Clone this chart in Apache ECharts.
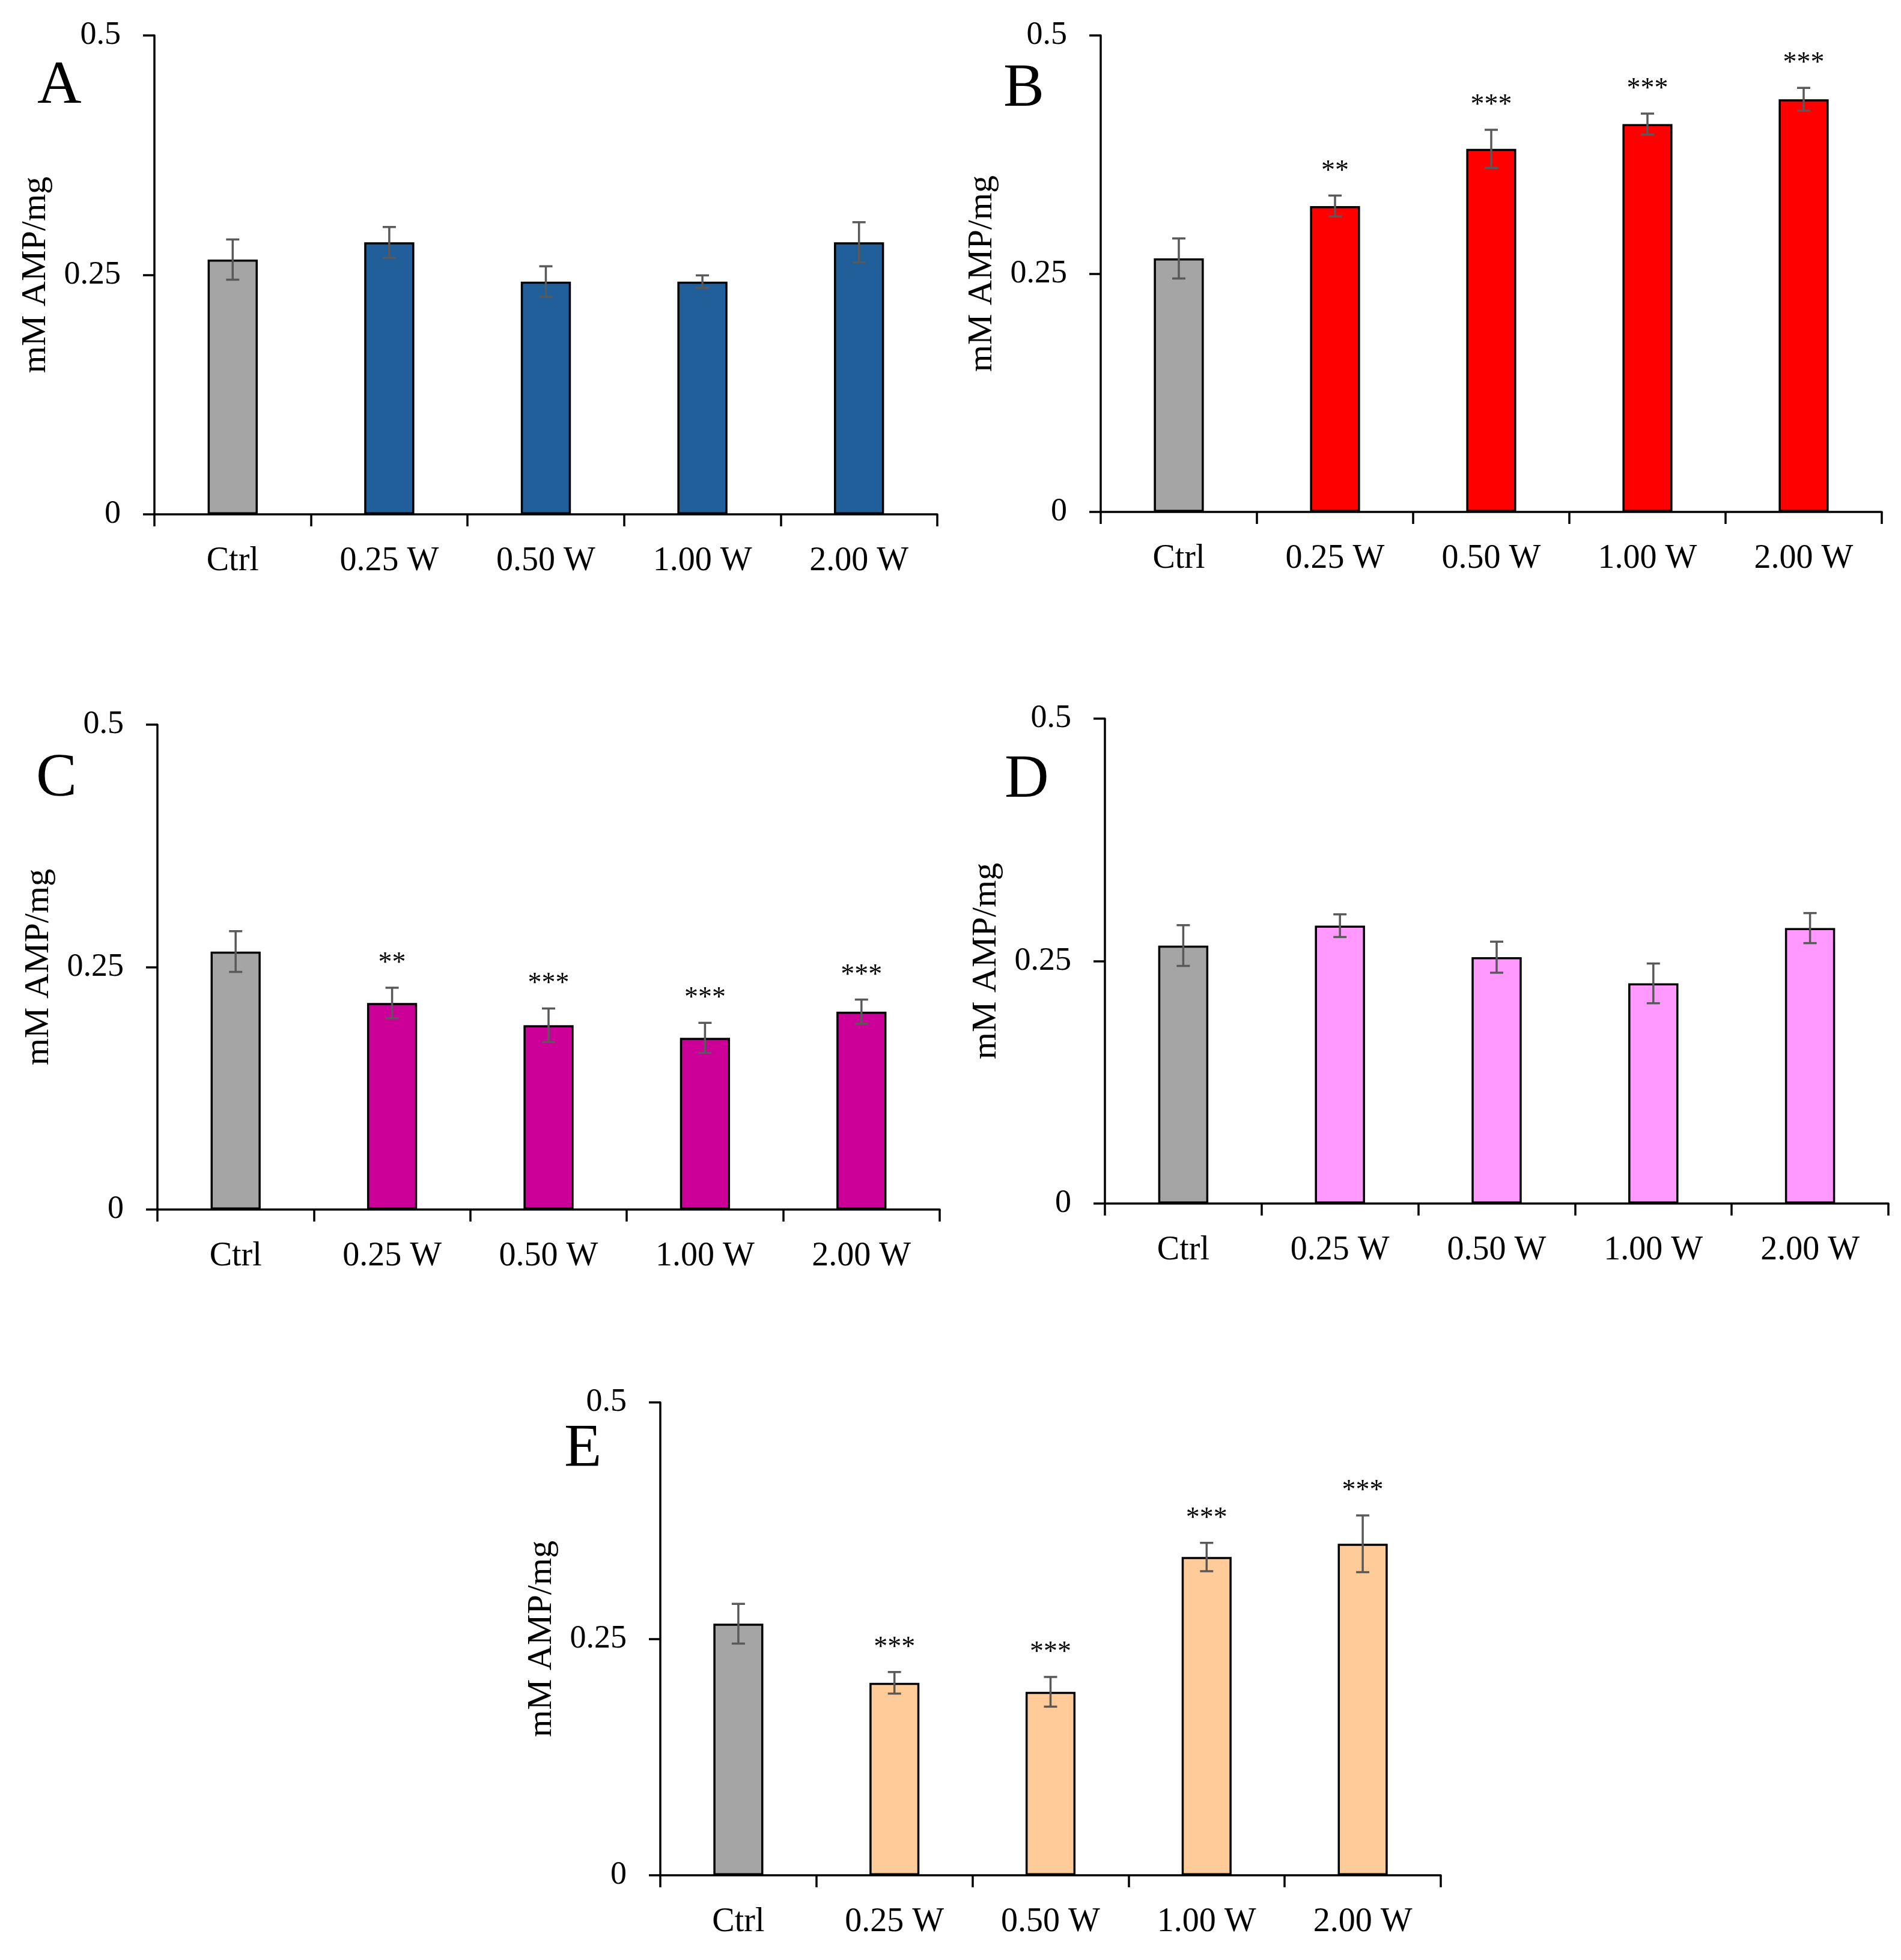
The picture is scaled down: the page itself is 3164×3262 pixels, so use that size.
<!DOCTYPE html>
<html>
<head>
<meta charset="utf-8">
<script src="https://cdn.jsdelivr.net/npm/echarts@6/dist/echarts.min.js"></script>
<style>
  html, body { margin: 0; padding: 0; background: #fff; }
  #chart { width: 3164px; height: 3262px; }
</style>
</head>
<body>
<div id="chart"></div>
<script>
// categories and tick labels
const categories = ["Ctrl", "0.25 W", "0.50 W", "1.00 W", "2.00 W"];
const yTicks = [0, 0.25, 0.5];
const axisTitle = "mM AMP/mg";

// panel A
const valuesA = [0.266, 0.284, 0.243, 0.243, 0.284];
const errorsA = [0.021, 0.016, 0.016, 0.0065, 0.021];
const starsA = ["", "", "", "", ""];

// panel B
const valuesB = [0.266, 0.321, 0.381, 0.407, 0.433];
const errorsB = [0.021, 0.011, 0.020, 0.011, 0.012];
const starsB = ["", "**", "***", "***", "***"];

// panel C
const valuesC = [0.266, 0.213, 0.190, 0.177, 0.204];
const errorsC = [0.021, 0.0157, 0.0173, 0.0155, 0.0125];
const starsC = ["", "**", "***", "***", "***"];

// panel D
const valuesD = [0.266, 0.2865, 0.254, 0.227, 0.284];
const errorsD = [0.021, 0.0117, 0.016, 0.0205, 0.0155];
const starsD = ["", "", "", "", ""];

// panel E
const valuesE = [0.266, 0.2035, 0.194, 0.3365, 0.3505];
const errorsE = [0.021, 0.0114, 0.0157, 0.015, 0.030];
const starsE = ["", "***", "***", "***", "***"];

const ctrlColor = "#A5A5A5";
const errColor = "#595959";
const FONT = "'Liberation Serif', 'Times New Roman', serif";

const panels = [
  { letter: "A", values: valuesA, errors: errorsA, stars: starsA, color: "#215F9A",
    grid: { left: 257, top: 59, width: 1303, height: 797 }, letterPos: [62, 145] },
  { letter: "B", values: valuesB, errors: errorsB, stars: starsB, color: "#FF0000",
    grid: { left: 1832, top: 59, width: 1300, height: 793 }, letterPos: [1670, 150] },
  { letter: "C", values: valuesC, errors: errorsC, stars: starsC, color: "#CC0099",
    grid: { left: 262, top: 1206, width: 1302, height: 807 }, letterPos: [60, 1298] },
  { letter: "D", values: valuesD, errors: errorsD, stars: starsD, color: "#FF99FF",
    grid: { left: 1839, top: 1196, width: 1304, height: 807 }, letterPos: [1672, 1300] },
  { letter: "E", values: valuesE, errors: errorsE, stars: starsE, color: "#FFCC99",
    grid: { left: 1099, top: 2334, width: 1299, height: 787 }, letterPos: [939, 2414] },
];

const chart = echarts.init(document.getElementById("chart"));

const grids = [];
const xAxes = [];
const yAxes = [];
const series = [];
const graphics = [];

panels.forEach((p, i) => {
  grids.push(Object.assign({ containLabel: false }, p.grid));

  xAxes.push({
    type: "category",
    gridIndex: i,
    data: categories,
    axisLine: { lineStyle: { color: "#000", width: 3.5 } },
    axisTick: { show: true, inside: false, length: 20, lineStyle: { color: "#000", width: 3.5 } },
    axisLabel: { color: "#000", fontFamily: FONT, fontSize: 56, margin: 50 },
    splitLine: { show: false },
  });

  yAxes.push({
    type: "value",
    gridIndex: i,
    min: yTicks[0],
    max: yTicks[yTicks.length - 1],
    interval: yTicks[1] - yTicks[0],
    name: axisTitle,
    nameLocation: "middle",
    nameGap: 168,
    nameRotate: 90,
    nameTextStyle: { color: "#000", fontFamily: FONT, fontSize: 58 },
    axisLine: { show: true, lineStyle: { color: "#000", width: 3.5 } },
    axisTick: { show: true, inside: false, length: 19, lineStyle: { color: "#000", width: 3.5 } },
    axisLabel: { color: "#000", fontFamily: FONT, fontSize: 54, margin: 56 },
    splitLine: { show: false },
  });

  series.push({
    type: "bar",
    xAxisIndex: i,
    yAxisIndex: i,
    barWidth: "32%",
    data: p.values.map((v, k) => ({
      value: v,
      itemStyle: { color: k === 0 ? ctrlColor : p.color },
    })),
    itemStyle: { borderColor: "#000", borderWidth: 3.5 },
    emphasis: { disabled: true },
    silent: true,
    z: 2,
  });

  series.push({
    type: "custom",
    xAxisIndex: i,
    yAxisIndex: i,
    z: 5,
    silent: true,
    data: p.values.map((v, k) => [k, v, p.errors[k]]),
    renderItem: function (params, api) {
      const x = api.value(0);
      const v = api.value(1);
      const e = api.value(2);
      const hi = api.coord([x, v + e]);
      const lo = api.coord([x, v - e]);
      const cap = 11;
      const lineStyle = { stroke: errColor, lineWidth: 3.5 };
      const children = [
        { type: "line", shape: { x1: hi[0], y1: hi[1], x2: lo[0], y2: lo[1] }, style: lineStyle },
        { type: "line", shape: { x1: hi[0] - cap, y1: hi[1], x2: hi[0] + cap, y2: hi[1] }, style: lineStyle },
        { type: "line", shape: { x1: lo[0] - cap, y1: lo[1], x2: lo[0] + cap, y2: lo[1] }, style: lineStyle },
      ];
      const star = p.stars[params.dataIndex];
      if (star) {
        children.push({
          type: "text",
          style: {
            text: star,
            x: hi[0],
            y: hi[1] - 40,
            fill: "#000",
            font: "46px " + FONT,
            align: "center",
            verticalAlign: "middle",
          },
        });
      }
      return { type: "group", children: children };
    },
  });

  graphics.push({
    type: "text",
    left: p.letterPos[0],
    top: p.letterPos[1] - 52,
    style: {
      text: p.letter,
      fill: "#000",
      font: "102px " + FONT,
    },
  });
});

chart.setOption({
  backgroundColor: "#fff",
  animation: false,
  grid: grids,
  xAxis: xAxes,
  yAxis: yAxes,
  series: series,
  graphic: graphics,
});
</script>
</body>
</html>
